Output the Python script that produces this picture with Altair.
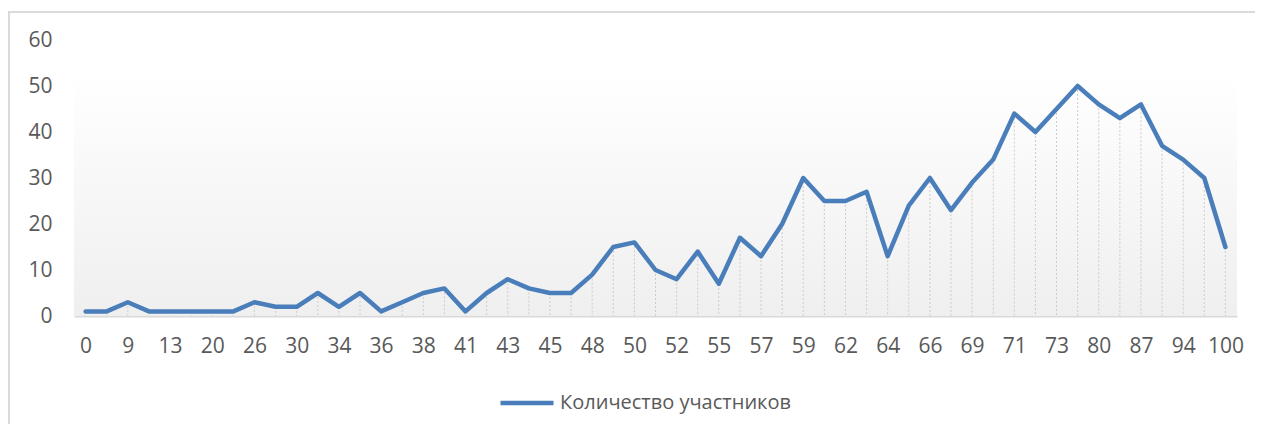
import altair as alt
import pandas as pd

categories = ["0", "5", "9", "11", "13", "16", "20", "23", "26", "28",
              "30", "32", "34", "35", "36", "37", "38", "39", "41", "42",
              "43", "44", "45", "46", "48", "49", "50", "51", "52", "53",
              "55", "56", "57", "58", "59", "61", "62", "63", "64", "65",
              "66", "67", "69", "70", "71", "72", "73", "77", "80", "84",
              "87", "90", "94", "97", "100"]
values = [1, 1, 3, 1, 1, 1, 1, 1, 3, 2,
          2, 5, 2, 5, 1, 3, 5, 6, 1, 5,
          8, 6, 5, 5, 9, 15, 16, 10, 8, 14,
          7, 17, 13, 20, 30, 25, 25, 27, 13, 24,
          30, 23, 29, 34, 44, 40, 45, 50, 46, 43,
          46, 37, 34, 30, 15]
shown_labels = categories[::2]
series_name = "Количество участников"
y_ticks = [0, 10, 20, 30, 40, 50, 60]

df = pd.DataFrame({"cat": categories, "value": values, "series": series_name})

FONT = "Open Sans"
TXT = "#595959"
FS = 21

x_enc = alt.X("cat:O", sort=None,
              scale=alt.Scale(type="point", padding=0.55),
              axis=alt.Axis(values=shown_labels, title=None, labelAngle=0,
                            labelFont=FONT, labelFontSize=FS, labelColor=TXT,
                            labelPadding=19, ticks=False, domain=True,
                            domainColor="#d9d9d9", domainWidth=2, grid=False))
y_enc = alt.Y("value:Q",
              scale=alt.Scale(domain=[0, 60], nice=False),
              axis=alt.Axis(values=y_ticks, title=None, labelFont=FONT,
                            labelFontSize=FS, labelColor=TXT, labelPadding=22,
                            ticks=False, domain=False, grid=False))

base = alt.Chart(df)

background = base.mark_rect(
    fill=alt.Gradient(gradient="linear", x1=0, x2=0, y1=0, y2=1,
                      stops=[alt.GradientStop(color="#ffffff", offset=0),
                             alt.GradientStop(color="#efefef", offset=1)]),
    strokeWidth=0,
).encode(x=alt.value(0), x2=alt.value("width"), y=alt.value(33), y2=alt.value("height"))

drops = base.mark_rule(color="#cccccc", strokeWidth=1, strokeDash=[2, 2]).encode(
    x=x_enc, y=y_enc, y2=alt.datum(0))

line = base.mark_line(strokeWidth=4.5, strokeJoin="round", strokeCap="round").encode(
    x=x_enc, y=y_enc,
    color=alt.Color("series:N",
                    scale=alt.Scale(domain=[series_name], range=["#4a7ebb"]),
                    legend=alt.Legend(title=None, orient="none", legendX=424, legendY=334,
                                      symbolType="stroke", symbolSize=2809,
                                      symbolStrokeWidth=4.5, labelFont=FONT,
                                      labelFontSize=20, labelColor=TXT,
                                      labelOffset=4, padding=0, labelLimit=0)))

frame = base.mark_rect(fill=None, stroke="#d9d9d9", strokeWidth=1.5).encode(
    x=alt.value(-65), x2=alt.value(1300), y=alt.value(-28), y2=alt.value(600))

chart = alt.layer(background, frame, drops, line).properties(
    width=1163, height=276,
    autosize=alt.AutoSizeParams(type="none"),
    padding={"left": 66, "top": 32, "right": 18, "bottom": 108},
    background="white",
).configure_view(stroke=None)

chart.save("out.html", embed_options={"renderer": "svg", "actions": False})
